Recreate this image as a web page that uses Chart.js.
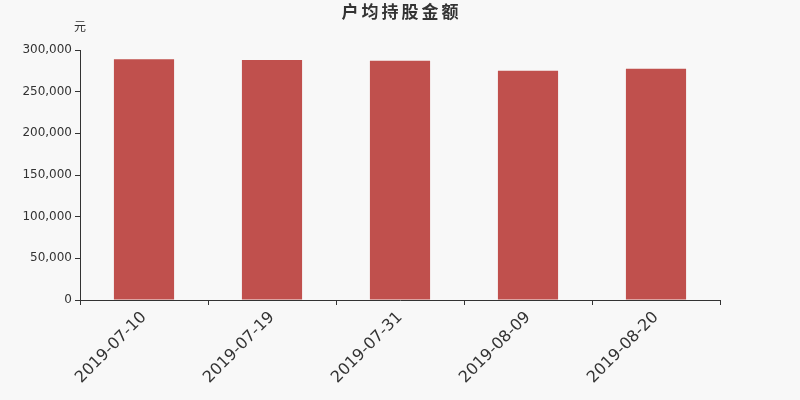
<!DOCTYPE html>
<html>
<head>
<meta charset="utf-8">
<script src="https://cdn.jsdelivr.net/npm/chart.js@4"></script>
<style>
  html, body { margin: 0; padding: 0; background: #f8f8f8; }
  #wrap { width: 800px; height: 400px; }
</style>
</head>
<body>
<div id="wrap"><canvas id="chart"></canvas></div>
<script>
// chart data
const dates = ['2019-07-10', '2019-07-19', '2019-07-31', '2019-08-09', '2019-08-20']
const avgHolding = [289000, 288000, 287000, 275000, 277500]
const yTicks = [0, 50000, 100000, 150000, 200000, 250000, 300000]

const axisColor = '#333333'
const fontFamily = '"DejaVu Sans", "Noto Sans CJK SC", sans-serif'

// title centred on the page and the unit label above the y axis
const headerText = {
  id: 'headerText',
  afterDraw(chart) {
    const ctx = chart.ctx
    const area = chart.chartArea
    ctx.save()
    ctx.fillStyle = axisColor
    ctx.textAlign = 'center'
    ctx.textBaseline = 'middle'
    ctx.font = 'bold 17px ' + fontFamily
    ctx.letterSpacing = '3px'
    ctx.fillText('户均持股金额', chart.width / 2 + 1.5, 14)
    ctx.letterSpacing = '0px'
    ctx.font = '12px ' + fontFamily
    ctx.fillText('元', area.left, 28)
    ctx.restore()
  },
}

const ctx = document.getElementById('chart').getContext('2d')
new Chart(ctx, {
  type: 'bar',
  data: {
    labels: dates,
    datasets: [
      {
        label: '户均持股金额',
        data: avgHolding,
        backgroundColor: '#c0504d',
        categoryPercentage: 1,
        barPercentage: 0.47,
      },
    ],
  },
  options: {
    responsive: true,
    maintainAspectRatio: false,
    animation: false,
    layout: {
      padding: { left: 0, right: 80, top: 50, bottom: 0 },
    },
    plugins: {
      legend: { display: false },
      tooltip: { enabled: false },
      title: { display: false },
    },
    scales: {
      x: {
        afterFit(scale) { scale.height = 100 },
        border: { color: axisColor, width: 1 },
        grid: {
          display: true,
          offset: true,
          drawOnChartArea: false,
          drawTicks: true,
          tickLength: 5,
          color: axisColor,
        },
        ticks: {
          color: axisColor,
          minRotation: 45,
          maxRotation: 45,
          font: { family: fontFamily, size: 16 },
        },
      },
      y: {
        min: 0,
        max: 300000,
        afterFit(scale) { scale.width = 80 },
        afterBuildTicks(scale) {
          scale.ticks = yTicks.map(v => ({ value: v }))
        },
        border: { color: axisColor, width: 1 },
        grid: {
          display: true,
          drawOnChartArea: false,
          drawTicks: true,
          tickLength: 5,
          color: axisColor,
        },
        ticks: {
          color: axisColor,
          padding: 3,
          font: { family: fontFamily, size: 12 },
          callback: v => v.toLocaleString('en-US'),
        },
      },
    },
  },
  plugins: [headerText],
})
</script>
</body>
</html>
